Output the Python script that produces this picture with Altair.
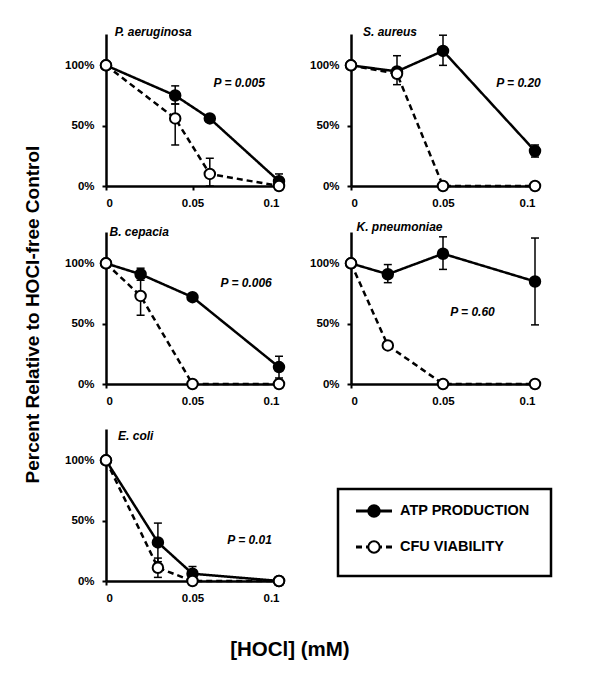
import altair as alt
import pandas as pd

species = ["P. aeruginosa", "S. aureus", "B. cepacia", "K. pneumoniae", "E. coli"]
series_names = ["ATP PRODUCTION", "CFU VIABILITY"]

# P. aeruginosa
conc_pa = [0, 0.04, 0.06, 0.1]
atp_pa = [100, 75, 56, 4]
atp_hi_pa = [100, 83, 59, 10]
atp_lo_pa = [100, 68, 53, 0]
cfu_pa = [100, 56, 10, 0]
cfu_hi_pa = [100, 68, 23, 0]
cfu_lo_pa = [100, 34, 0, 0]

# S. aureus
conc_sa = [0, 0.025, 0.05, 0.1]
atp_sa = [100, 95, 112, 29]
atp_hi_sa = [100, 108, 125, 34]
atp_lo_sa = [100, 84, 100, 24]
cfu_sa = [100, 93, 0, 0]
cfu_hi_sa = [100, 93, 0, 0]
cfu_lo_sa = [100, 93, 0, 0]

# B. cepacia
conc_bc = [0, 0.02, 0.05, 0.1]
atp_bc = [100, 91, 72, 14]
atp_hi_bc = [100, 96, 74, 23]
atp_lo_bc = [100, 86, 70, 5]
cfu_bc = [100, 73, 0, 0]
cfu_hi_bc = [100, 89, 0, 0]
cfu_lo_bc = [100, 57, 0, 0]

# K. pneumoniae
conc_kp = [0, 0.02, 0.05, 0.1]
atp_kp = [100, 91, 108, 85]
atp_hi_kp = [100, 99, 122, 121]
atp_lo_kp = [100, 84, 95, 49]
cfu_kp = [100, 32, 0, 0]
cfu_hi_kp = [100, 32, 0, 0]
cfu_lo_kp = [100, 32, 0, 0]

# E. coli
conc_ec = [0, 0.03, 0.05, 0.1]
atp_ec = [100, 32, 6, 0]
atp_hi_ec = [100, 48, 12, 0]
atp_lo_ec = [100, 16, 0, 0]
cfu_ec = [100, 11, 0, 0]
cfu_hi_ec = [100, 19, 0, 0]
cfu_lo_ec = [100, 3, 0, 0]

p_labels = ["P = 0.005", "P = 0.20", "P = 0.006", "P = 0.60", "P = 0.01"]
p_x = [0.077, 0.091, 0.081, 0.066, 0.083]
p_y = [85, 85, 84, 60, 34]
title_x = [0.005, 0.0065, 0.002, 0.003, 0.007]
title_y = [128, 128, 126, 130, 120]
panel_w = [173, 184, 173, 184, 173]

x_ticks = [0, 0.05, 0.1]
y_ticks = [0, 50, 100]

FONT = "Liberation Sans"
PLOT_H = 152
Y_MAX = 126


def x_enc(field):
    return alt.X(field, type="quantitative",
                 scale=alt.Scale(domain=[0, 0.1], nice=False, zero=True),
                 axis=alt.Axis(values=x_ticks, labelExpr="'' + datum.value", title=None))


def y_enc(field):
    return alt.Y(field, type="quantitative",
                 scale=alt.Scale(domain=[0, Y_MAX], nice=False, zero=True),
                 axis=alt.Axis(values=y_ticks, labelExpr="datum.value + '%'", title=None))


def panel(i, conc, atp, atp_hi, atp_lo, cfu, cfu_hi, cfu_lo, top_space=None):
    rows = []
    for c, m, h, l in zip(conc, atp, atp_hi, atp_lo):
        rows.append(dict(conc=c, val=m, hi=h, lo=l, series=series_names[0]))
    for c, m, h, l in zip(conc, cfu, cfu_hi, cfu_lo):
        rows.append(dict(conc=c, val=m, hi=h, lo=l, series=series_names[1]))
    df = pd.DataFrame(rows)
    err = df[df.hi != df.lo]

    dash = alt.StrokeDash("series:N", scale=alt.Scale(domain=series_names, range=[[1, 0], [6, 4]]), legend=None)
    fill = alt.Fill("series:N", scale=alt.Scale(domain=series_names, range=["black", "white"]), legend=None)

    lines = alt.Chart(df).mark_line(color="black", strokeWidth=2.5).encode(
        x=x_enc("conc"), y=y_enc("val"), strokeDash=dash, detail="series:N")
    ebar = alt.Chart(err).mark_rule(color="black", strokeWidth=1.5).encode(
        x=x_enc("conc"), y=y_enc("lo"), y2="hi:Q")
    cap_hi = alt.Chart(err).mark_tick(orient="horizontal", color="black", size=8, thickness=1.5, opacity=1).encode(
        x=x_enc("conc"), y=y_enc("hi"))
    cap_lo = alt.Chart(err).mark_tick(orient="horizontal", color="black", size=8, thickness=1.5, opacity=1).encode(
        x=x_enc("conc"), y=y_enc("lo"))
    pts = alt.Chart(df).mark_circle(size=110, stroke="black", strokeWidth=2, opacity=1).encode(
        x=x_enc("conc"), y=y_enc("val"), fill=fill)

    tdf = pd.DataFrame({"x": [title_x[i]], "y": [title_y[i]], "t": [species[i]]})
    ttl = alt.Chart(tdf).mark_text(align="left", baseline="middle", fontSize=12, fontStyle="italic",
                                   fontWeight="bold", font=FONT, color="black").encode(
        x=x_enc("x"), y=y_enc("y"), text="t:N")
    pdf = pd.DataFrame({"x": [p_x[i]], "y": [p_y[i]], "t": [p_labels[i]]})
    ptxt = alt.Chart(pdf).mark_text(align="center", baseline="middle", fontSize=12, fontStyle="italic",
                                    fontWeight="bold", font=FONT, color="black").encode(
        x=x_enc("x"), y=y_enc("y"), text="t:N")

    layers = [lines, ebar, cap_hi, cap_lo, pts, ttl, ptxt]
    if top_space is not None:
        # invisible spacer so this row keeps the same headroom as the others
        sp = alt.Chart(pd.DataFrame({"y": [top_space]})).mark_rule(opacity=0, strokeOpacity=0).encode(
            x=alt.value(0), x2=alt.value(1), y=y_enc("y"))
        layers.append(sp)
    return alt.layer(*layers).properties(width=panel_w[i], height=PLOT_H)


p1 = panel(0, conc_pa, atp_pa, atp_hi_pa, atp_lo_pa, cfu_pa, cfu_hi_pa, cfu_lo_pa)
p2 = panel(1, conc_sa, atp_sa, atp_hi_sa, atp_lo_sa, cfu_sa, cfu_hi_sa, cfu_lo_sa)
p3 = panel(2, conc_bc, atp_bc, atp_hi_bc, atp_lo_bc, cfu_bc, cfu_hi_bc, cfu_lo_bc)
p4 = panel(3, conc_kp, atp_kp, atp_hi_kp, atp_lo_kp, cfu_kp, cfu_hi_kp, cfu_lo_kp)
p5 = panel(4, conc_ec, atp_ec, atp_hi_ec, atp_lo_ec, cfu_ec, cfu_hi_ec, cfu_lo_ec, top_space=134)

# Legend panel
leg_df = pd.DataFrame({"series": series_names})
leg_y = alt.Y("series:N", scale=alt.Scale(type="point", domain=series_names, range=[82, 118], padding=0), axis=None)
leg_dash = alt.StrokeDash("series:N", scale=alt.Scale(domain=series_names, range=[[1, 0], [5, 4]]), legend=None)
leg_fill = alt.Fill("series:N", scale=alt.Scale(domain=series_names, range=["black", "white"]), legend=None)
box = alt.Chart(pd.DataFrame({"a": [0]})).mark_rect(fillOpacity=0, stroke="black", strokeWidth=2.5).encode(
    x=alt.value(-13), x2=alt.value(200), y=alt.value(60), y2=alt.value(147))
leg_line = alt.Chart(leg_df).mark_rule(color="black", strokeWidth=3).encode(
    x=alt.value(5), x2=alt.value(41), y=leg_y, strokeDash=leg_dash)
leg_pt = alt.Chart(leg_df).mark_circle(size=130, stroke="black", strokeWidth=2, opacity=1).encode(
    x=alt.value(23), y=leg_y, fill=leg_fill)
leg_txt = alt.Chart(leg_df).mark_text(align="left", baseline="middle", fontSize=14.5, fontWeight="bold",
                                      font=FONT, color="black").encode(
    x=alt.value(49), y=leg_y, text="series:N")
legend = alt.layer(box, leg_line, leg_pt, leg_txt).properties(width=184, height=PLOT_H)

grid = alt.concat(p1, p2, p3, p4, p5, legend, columns=2, spacing={"row": 12, "column": 20}, align="each")

mid = alt.hconcat(grid).properties(
    title=alt.TitleParams("Percent Relative to HOCl-free Control", orient="left", anchor="middle",
                          fontSize=19, fontWeight="bold", font=FONT, color="black", offset=22))

chart = alt.vconcat(mid).properties(
    title=alt.TitleParams("[HOCl] (mM)", orient="bottom", anchor="middle", fontSize=20.5, fontWeight="bold",
                          font=FONT, color="black", offset=36, dx=2),
    padding={"top": 17, "left": 15, "right": 5, "bottom": 5},
).configure_view(stroke=None).configure_axis(
    domainColor="black", domainWidth=2.5, tickColor="black", tickWidth=2, tickSize=4,
    labelFont=FONT, labelFontSize=11.5, labelFontWeight="bold", labelColor="black", labelPadding=5,
    grid=False, titleColor="black", titleFont=FONT
).configure_axisX(labelPadding=7).configure_axisY(labelPadding=8)

chart.save("out.html", embed_options={"renderer": "svg", "actions": False})
